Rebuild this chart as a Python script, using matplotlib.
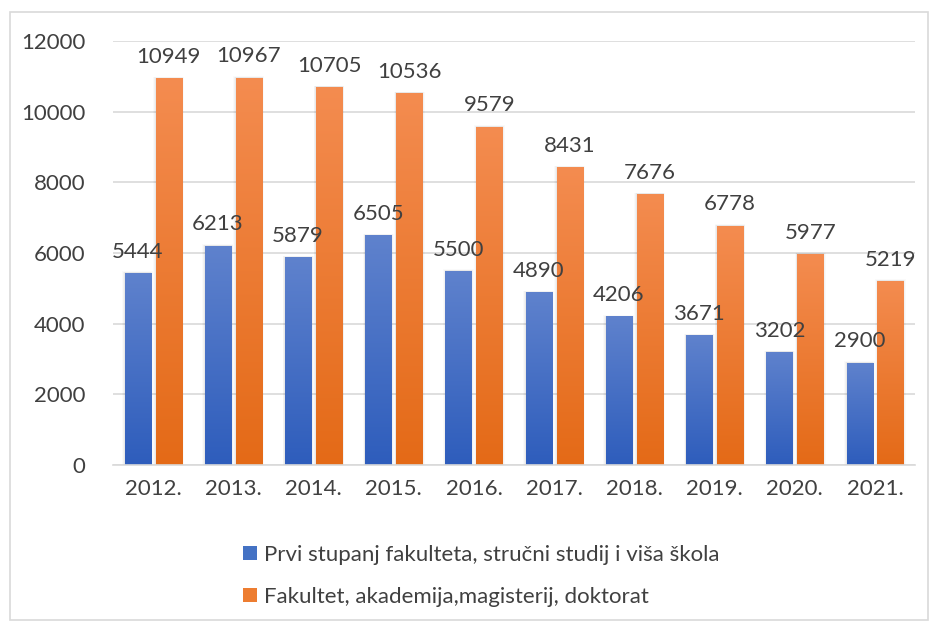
import numpy as np
import matplotlib.pyplot as plt
from matplotlib.patches import Rectangle
from matplotlib.colors import LinearSegmentedColormap

years = ["2012.", "2013.", "2014.", "2015.", "2016.", "2017.", "2018.", "2019.", "2020.", "2021."]
prvi = [5444, 6213, 5879, 6505, 5500, 4890, 4206, 3671, 3202, 2900]
fakultet = [10949, 10967, 10705, 10536, 9579, 8431, 7676, 6778, 5977, 5219]
labels = ["Prvi stupanj fakulteta, stručni studij i viša škola",
          "Fakultet, akademija,magisterij, doktorat"]

plt.rcParams['font.family'] = ['Lato', 'DejaVu Sans']
fs = 16

fig = plt.figure(figsize=(9.3, 6.22), dpi=100)
ax = fig.add_axes([0.1215, 0.2524, 0.8625, 0.6816])

x = np.arange(len(years))
w = 0.325
gap = 0.06

blue_cmap = LinearSegmentedColormap.from_list("b", ["#2E5DBC", "#5F82CD"])
orange_cmap = LinearSegmentedColormap.from_list("o", ["#E46A17", "#F48C50"])
grad = np.linspace(0, 1, 256).reshape(-1, 1)


def gradient_bars(bars, cmap):
    for b in bars:
        bx, by = b.get_x(), b.get_y()
        bw, bh = b.get_width(), b.get_height()
        # soft shadow
        for i, a in enumerate([0.04, 0.03, 0.02]):
            d = 0.01 * (i + 1)
            ax.add_patch(Rectangle((bx - d, by), bw + 2 * d, bh + 12 * (i + 1),
                                   facecolor="black", alpha=a, edgecolor="none", zorder=1.5))
        im = ax.imshow(grad, extent=[bx, bx + bw, by, by + bh], origin="lower",
                       aspect="auto", cmap=cmap, zorder=2)
        im.set_clip_path(b)
        b.set_facecolor("none")


b1 = ax.bar(x - (w + gap) / 2, prvi, w, color="#4472C4", zorder=2, label=labels[0])
b2 = ax.bar(x + (w + gap) / 2, fakultet, w, color="#ED7D31", zorder=2, label=labels[1])
gradient_bars(b1, blue_cmap)
gradient_bars(b2, orange_cmap)

for xi, v in zip(x, prvi):
    ax.annotate(str(v), (xi - (w + gap) / 2, v), xytext=(0, 8), textcoords="offset points",
                ha="center", va="bottom", fontsize=fs, color="#404040", zorder=4)
for xi, v in zip(x, fakultet):
    ax.annotate(str(v), (xi + (w + gap) / 2, v), xytext=(0, 8), textcoords="offset points",
                ha="center", va="bottom", fontsize=fs, color="#404040", zorder=4)

ax.set_xlim(-0.5, len(years) - 0.5)
ax.set_ylim(0, 12000)
ax.set_yticks(range(0, 12001, 2000))
ax.set_xticks(x)
ax.set_xticklabels(years)
ax.tick_params(axis="both", length=0, labelsize=fs, labelcolor="#404040")
ax.tick_params(axis="y", pad=20)
ax.tick_params(axis="x", pad=10)
ax.grid(axis="y", color="#D9D9D9", linewidth=1.2, zorder=0)
ax.set_axisbelow(True)
for s in ["top", "right", "left"]:
    ax.spines[s].set_visible(False)
ax.spines["bottom"].set_color("#D9D9D9")
ax.spines["bottom"].set_linewidth(1.2)

handles = [Rectangle((0, 0), 1, 1, facecolor="#4472C4"), Rectangle((0, 0), 1, 1, facecolor="#ED7D31")]
fig.legend(handles, labels, loc="upper left", bbox_to_anchor=(0.252, 0.138), ncol=1,
           frameon=False, fontsize=fs, labelcolor="#404040", handlelength=0.6,
           handleheight=0.6, handletextpad=0.35, labelspacing=1.0, borderaxespad=0)

fig.patches.append(Rectangle((10 / 930, 2 / 622), 918 / 930, 608 / 622, transform=fig.transFigure,
                             fill=False, edgecolor="#D9D9D9", linewidth=1.2))

fig.savefig("out.png", dpi=100)
